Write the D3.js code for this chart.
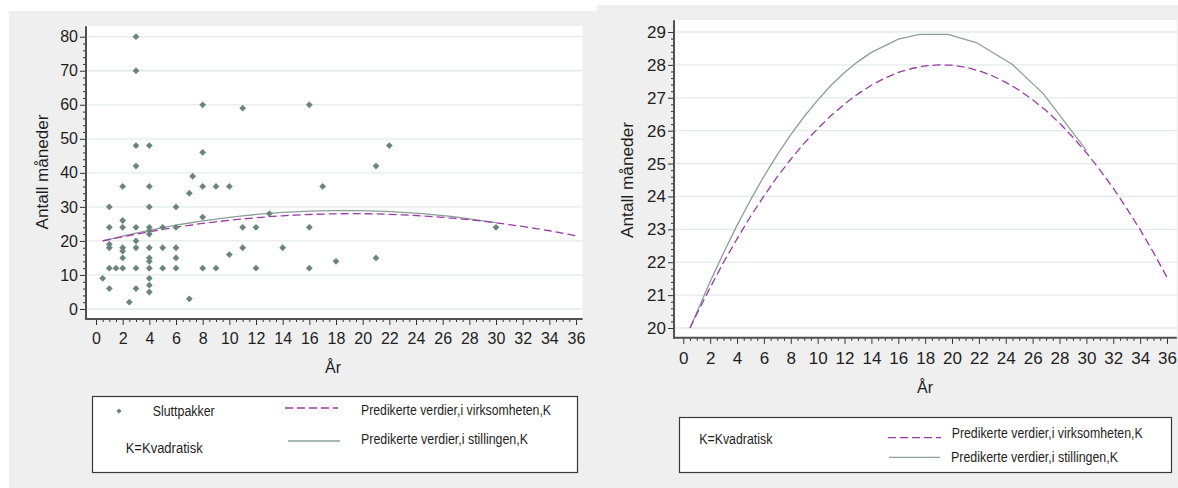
<!DOCTYPE html>
<html>
<head>
<meta charset="utf-8">
<script src="https://cdn.jsdelivr.net/npm/d3@7"></script>
<style>
  body { margin: 0; background: #ffffff; }
  svg { display: block; }
  text { font-family: "Liberation Sans", Arial, sans-serif; fill: #1e1e1e; }
</style>
</head>
<body>
<svg id="chart" width="1178" height="488"></svg>
<script>
// Observations: years (År) and months (Antall måneder) of the severance packages
const scatterYears = [
  3, 3, 8, 11, 16, 3, 4, 8, 22, 3, 21,
  2, 4, 7, 7.25, 8, 9, 10, 17,
  1, 4, 6, 8, 13,
  1, 2, 2, 3, 4, 4, 4, 5, 6, 11, 12, 16, 30,
  1, 1, 2, 2, 3, 3, 4, 5, 6, 11, 14,
  10, 2, 4, 4, 6, 18, 21,
  1, 1.5, 2, 3, 4, 5, 6, 8, 9, 12, 16,
  0.5, 4, 4, 1, 3, 4, 2.5, 7
];
const scatterMonths = [
  80, 70, 60, 59, 60, 48, 48, 46, 48, 42, 42,
  36, 36, 34, 39, 36, 36, 36, 36,
  30, 30, 30, 27, 28,
  24, 26, 24, 24, 24, 23, 22, 24, 24, 24, 24, 24, 24,
  19, 18, 18, 17, 20, 18, 18, 18, 18, 18, 18,
  16, 15, 15, 14, 15, 14, 15,
  12, 12, 12, 12, 12, 12, 12, 12, 12, 12, 12,
  9, 9, 7, 6, 6, 5, 2, 3
];

// Quadratic predictions, tenure in the firm (dashed)
const firmYears = [0.5, 1, 2, 3, 4, 5, 6, 7, 8, 9, 10, 11, 12, 13, 14, 15, 16, 17, 18,
  19, 20, 21, 22, 23, 24, 25, 26, 27, 28, 29, 30, 31, 32, 33, 34, 35, 36];
const firmPred = [20.0, 20.42, 21.23, 22.0, 22.71, 23.39, 24.01, 24.6, 25.13, 25.62, 26.06,
  26.46, 26.81, 27.12, 27.38, 27.6, 27.77, 27.89, 27.97, 28.0, 27.99, 27.93, 27.82, 27.67,
  27.47, 27.23, 26.94, 26.61, 26.23, 25.8, 25.33, 24.81, 24.25, 23.64, 22.99, 22.29, 21.54];

// Quadratic predictions, tenure in the position (solid)
const jobYears = [0.5, 1, 2, 3, 4, 5, 6, 7, 8, 9, 10, 11, 12, 13, 14, 16, 17.6, 19.7,
  21.8, 24.5, 26.8, 30];
const jobPred = [20.0, 20.47, 21.41, 22.29, 23.12, 23.89, 24.61, 25.27, 25.88, 26.43, 26.93,
  27.38, 27.77, 28.1, 28.38, 28.78, 28.93, 28.93, 28.68, 28.01, 27.12, 25.4];

// Tick labels
const xTickLabels = [0, 2, 4, 6, 8, 10, 12, 14, 16, 18, 20, 22, 24, 26, 28, 30, 32, 34, 36];
const leftYTickLabels = [0, 10, 20, 30, 40, 50, 60, 70, 80];
const rightYTickLabels = [20, 21, 22, 23, 24, 25, 26, 27, 28, 29];

// Legend and axis texts
const yTitle = "Antall måneder";
const xTitle = "År";
const scatterName = "Sluttpakker";
const noteText = "K=Kvadratisk";
const firmName = "Predikerte verdier,i virksomheten,K";
const jobName = "Predikerte verdier,i stillingen,K";

const COL = {
  panel: "#efefef",
  plot: "#ffffff",
  grid: "#e2ebeb",
  axis: "#505050",
  marker: "#6b857b",
  job: "#8c9f97",
  firm: "#9a3aa6"
};

const svg = d3.select("#chart");

// panel backgrounds
svg.append("rect").attr("x", 9).attr("y", 11).attr("width", 588).attr("height", 477).attr("fill", COL.panel);
svg.append("rect").attr("x", 597).attr("y", 5).attr("width", 581).attr("height", 483).attr("fill", COL.panel);

function addText(g, x, y, str, size, opts = {}) {
  const t = g.append("text")
    .attr("x", x).attr("y", y)
    .attr("dy", "0.35em")
    .attr("font-size", size)
    .attr("text-anchor", opts.anchor || "start")
    .text(str);
  if (opts.width) t.attr("textLength", opts.width).attr("lengthAdjust", "spacingAndGlyphs");
  if (opts.rotate) t.attr("transform", `rotate(-90,${x},${y})`);
  return t;
}

function drawPanel(cfg) {
  const g = svg.append("g");
  const x = d3.scaleLinear().domain([0, 36]).range(cfg.xRange);
  const y = d3.scaleLinear().domain(cfg.yDomain).range(cfg.yRange);
  const x0 = x(cfg.xExtent[0]), x1 = x(cfg.xExtent[1]);
  const yTop = y(cfg.yExtent[1]), yBot = y(cfg.yExtent[0]);

  // plot region
  g.append("rect").attr("x", x0).attr("y", yTop)
    .attr("width", x1 - x0).attr("height", yBot - yTop).attr("fill", COL.plot);

  // horizontal grid
  g.append("g").selectAll("line").data(cfg.yTicks).join("line")
    .attr("x1", x0).attr("x2", x1)
    .attr("y1", d => y(d)).attr("y2", d => y(d))
    .attr("stroke", COL.grid).attr("stroke-width", 1.3);

  // y axis
  const yMinor = d3.range(cfg.yTicks[0], cfg.yTicks[cfg.yTicks.length - 1] + 1e-9, cfg.yMinorStep)
    .filter(v => cfg.yTicks.every(t => Math.abs(t - v) > 1e-6));
  const yAx = g.append("g").attr("transform", `translate(${x0},0)`)
    .call(d3.axisLeft(y).tickValues(cfg.yTicks).tickSize(6).tickPadding(2).tickFormat(d => d));
  const yAxMinor = g.append("g").attr("transform", `translate(${x0},0)`)
    .call(d3.axisLeft(y).tickValues(yMinor).tickSize(3).tickFormat(""));

  // x axis
  const xMinor = d3.range(0, 36.01, 0.5).filter(v => v % 2 !== 0);
  const xAx = g.append("g").attr("transform", `translate(0,${yBot})`)
    .call(d3.axisBottom(x).tickValues(cfg.xTicks).tickSize(6).tickPadding(cfg.xPad).tickFormat(d => d));
  const xAxMinor = g.append("g").attr("transform", `translate(0,${yBot})`)
    .call(d3.axisBottom(x).tickValues(xMinor).tickSize(3).tickFormat(""));

  [yAx, yAxMinor, xAx, xAxMinor].forEach(a => {
    a.select(".domain").remove();
    a.selectAll(".tick line").attr("stroke", "#333").attr("stroke-width", 1);
    a.selectAll(".tick text").attr("font-size", cfg.tickFont)
      .attr("font-family", '"Liberation Sans", Arial, sans-serif').attr("fill", "#1e1e1e");
  });

  // axis lines
  g.append("line").attr("x1", x0).attr("x2", x0).attr("y1", yTop).attr("y2", yBot + 1)
    .attr("stroke", COL.axis).attr("stroke-width", 2);
  g.append("line").attr("x1", x0 - 1).attr("x2", x1).attr("y1", yBot).attr("y2", yBot)
    .attr("stroke", COL.axis).attr("stroke-width", 2);

  // prediction curves
  const line = d3.line().x(d => x(d[0])).y(d => y(d[1]));
  g.append("path").datum(d3.zip(jobYears, jobPred))
    .attr("d", line).attr("fill", "none")
    .attr("stroke", COL.job).attr("stroke-width", 1.3);
  g.append("path").datum(d3.zip(firmYears, firmPred))
    .attr("d", line).attr("fill", "none")
    .attr("stroke", COL.firm).attr("stroke-width", 1.3)
    .attr("stroke-dasharray", "8,4");

  // observations
  if (cfg.scatter) {
    g.append("g").selectAll("path").data(d3.zip(scatterYears, scatterMonths)).join("path")
      .attr("d", "M0,-3.4L3.4,0L0,3.4L-3.4,0Z")
      .attr("transform", d => `translate(${x(d[0])},${y(d[1])})`)
      .attr("fill", COL.marker);
  }

  // titles
  addText(g, cfg.yTitlePos[0], cfg.yTitlePos[1], yTitle, 16,
    { anchor: "middle", rotate: true, width: cfg.yTitleWidth });
  addText(g, cfg.xTitlePos[0], cfg.xTitlePos[1], xTitle, 16, { anchor: "middle" });

  return g;
}

drawPanel({
  xRange: [96, 576], xExtent: [-0.75, 36.5],
  yDomain: [0, 80], yRange: [309, 36.7], yExtent: [-2.94, 83.1],
  yTicks: leftYTickLabels, yMinorStep: 2, xTicks: xTickLabels,
  tickFont: 16, xPad: 8,
  scatter: true,
  yTitlePos: [42, 172], yTitleWidth: 115,
  xTitlePos: [333, 367]
});

drawPanel({
  xRange: [683.3, 1167], xExtent: [-0.69, 36.73],
  yDomain: [20, 29], yRange: [328, 32], yExtent: [19.7, 29.36],
  yTicks: rightYTickLabels, yMinorStep: 0.2, xTicks: xTickLabels,
  tickFont: 17, xPad: 8,
  scatter: false,
  yTitlePos: [627, 180], yTitleWidth: 116,
  xTitlePos: [925, 387]
});

// legend, left panel
const lg1 = svg.append("g");
lg1.append("rect").attr("x", 92.5).attr("y", 396.5).attr("width", 485).attr("height", 76)
  .attr("fill", "#fff").attr("stroke", "#3a3a3a").attr("stroke-width", 1.2);
lg1.append("path").attr("d", "M0,-2.6L2.6,0L0,2.6L-2.6,0Z")
  .attr("transform", "translate(119,411)").attr("fill", COL.marker);
addText(lg1, 152.7, 411.5, scatterName, 14, { width: 62 });
addText(lg1, 125.7, 448, noteText, 14, { width: 77 });
lg1.append("line").attr("x1", 285).attr("x2", 338).attr("y1", 408).attr("y2", 408)
  .attr("stroke", COL.firm).attr("stroke-width", 1.3).attr("stroke-dasharray", "8,4");
addText(lg1, 361, 410, firmName, 14, { width: 190 });
lg1.append("line").attr("x1", 288).attr("x2", 340).attr("y1", 441).attr("y2", 441)
  .attr("stroke", COL.job).attr("stroke-width", 1.3);
addText(lg1, 361, 439, jobName, 14, { width: 167 });

// legend, right panel
const lg2 = svg.append("g");
lg2.append("rect").attr("x", 679.5).attr("y", 417.5).attr("width", 492).attr("height", 55)
  .attr("fill", "#fff").attr("stroke", "#3a3a3a").attr("stroke-width", 1.2);
addText(lg2, 699.3, 439.3, noteText, 14, { width: 73 });
lg2.append("line").attr("x1", 888).attr("x2", 941).attr("y1", 437.7).attr("y2", 437.7)
  .attr("stroke", COL.firm).attr("stroke-width", 1.3).attr("stroke-dasharray", "8,4");
addText(lg2, 951.7, 432.7, firmName, 14, { width: 191 });
lg2.append("line").attr("x1", 889).attr("x2", 940).attr("y1", 457.3).attr("y2", 457.3)
  .attr("stroke", COL.job).attr("stroke-width", 1.3);
addText(lg2, 951, 456.7, jobName, 14, { width: 167 });
</script>
</body>
</html>
